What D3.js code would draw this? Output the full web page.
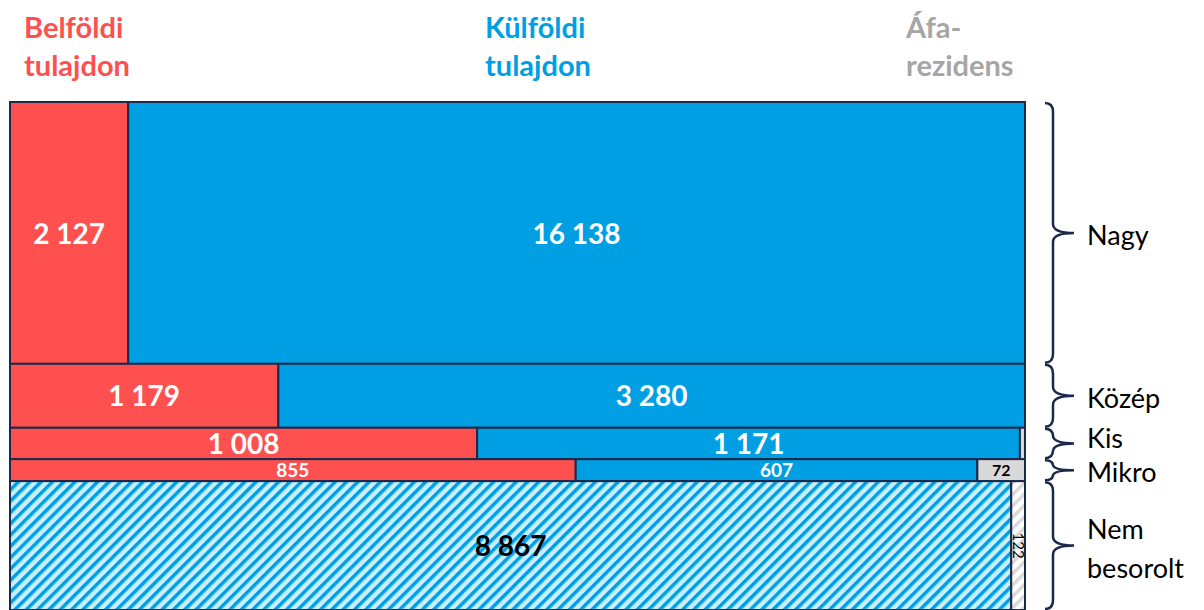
<!DOCTYPE html>
<html>
<head>
<meta charset="utf-8">
<script src="https://cdn.jsdelivr.net/npm/d3@7"></script>
<style>
  body { margin: 0; background: #fff; }
  svg { display: block; font-family: Lato, "Open Sans", sans-serif; }
</style>
</head>
<body>
<svg id="drawing_region"></svg>
<script>
// values
const categories = ['Nagy', 'Közép', 'Kis', 'Mikro', 'Nem besorolt'];
const belfoldi = [2127, 1179, 1008, 855, 0];
const kulfoldi = [16138, 3280, 1171, 607, 8867];
const afa = [0, 0, 11, 72, 122];
const groups = ['Belföldi tulajdon', 'Külföldi tulajdon', 'Áfa-rezidens'];

const W = 1204, H = 610;
const margin = {top: 102, right: 179, bottom: 0, left: 10};
const navy = '#1b2a4a';
const fills = ['#ff5050', '#009fe3', '#d9d9d9'];

const svg = d3.select('#drawing_region').attr('width', W).attr('height', H);

// hatch patterns
const defs = svg.append('defs');
function hatch(id, bg, fg) {
    const p = defs.append('pattern')
        .attr('id', id)
        .attr('patternUnits', 'userSpaceOnUse')
        .attr('width', 8).attr('height', 8)
        .attr('patternTransform', 'rotate(45)');
    p.append('rect').attr('width', 8).attr('height', 8).attr('fill', bg);
    p.append('rect').attr('x', 0).attr('width', 3.5).attr('height', 8).attr('fill', fg);
}
hatch('hatchBlue', '#c8effd', '#009fe3');
hatch('hatchGrey', '#ffffff', '#d9d9d9');

const rows = categories.map((c, i) => {
    const vals = [belfoldi[i], kulfoldi[i], afa[i]];
    return {cat: c, vals: vals, total: d3.sum(vals)};
});
const grand = d3.sum(rows, d => d.total);

const y = d3.scaleLinear()
    .domain([0, grand])
    .range([margin.top, H - margin.bottom]);

let acc = 0;
rows.forEach(r => { r.y0 = y(acc); acc += r.total; r.y1 = y(acc); });

const cells = [];
rows.forEach((r, ri) => {
    const x = d3.scaleLinear().domain([0, r.total]).range([margin.left, W - margin.right]);
    let s = 0;
    r.vals.forEach((v, gi) => {
        if (v > 0) cells.push({row: r, ri: ri, gi: gi, v: v, x0: x(s), x1: x(s + v)});
        s += v;
    });
});

const hatched = d => d.row.cat === 'Nem besorolt';

svg.append('g').selectAll('rect')
    .data(cells)
    .join('rect')
    .attr('x', d => d.x0)
    .attr('y', d => d.row.y0)
    .attr('width', d => d.x1 - d.x0)
    .attr('height', d => d.row.y1 - d.row.y0)
    .attr('fill', d => hatched(d) ? (d.gi === 2 ? 'url(#hatchGrey)' : 'url(#hatchBlue)') : fills[d.gi])
    .attr('stroke', navy)
    .attr('stroke-width', 2);

// value labels
const fmt = v => d3.format(',')(v).replace(/,/g, ' ');
const labels = svg.append('g').attr('font-weight', 'bold');
cells.forEach(d => {
    const w = d.x1 - d.x0, h = d.row.y1 - d.row.y0;
    const cx = (d.x0 + d.x1) / 2, cy = (d.row.y0 + d.row.y1) / 2;
    const dark = d.gi === 2 || hatched(d);
    if (w > 30) {
        const fs = h < 25 ? (d.gi === 2 ? 16 : 19) : 28;
        labels.append('text')
            .attr('x', cx).attr('y', cy)
            .attr('dy', '0.38em')
            .attr('text-anchor', 'middle')
            .attr('font-size', fs)
            .attr('fill', dark ? '#000' : '#fff')
            .text(fmt(d.v));
    } else if (h > 40) {
        labels.append('text')
            .attr('transform', `translate(${cx},${cy}) rotate(90)`)
            .attr('dy', '0.36em')
            .attr('text-anchor', 'middle')
            .attr('font-size', 15)
            .attr('font-weight', 'normal')
            .attr('fill', '#000')
            .text(fmt(d.v));
    }
});

// column headers
const headX = [24, 485, 906];
const headCol = ['#ff5050', '#009fe3', '#a6a6a6'];
const headLines = [['Belföldi', 'tulajdon'], ['Külföldi', 'tulajdon'], ['Áfa-', 'rezidens']];
groups.forEach((g, i) => {
    const t = svg.append('text')
        .attr('x', headX[i]).attr('y', 38)
        .attr('font-size', 29).attr('font-weight', 'bold')
        .attr('fill', headCol[i]);
    headLines[i].forEach((l, k) => t.append('tspan').attr('x', headX[i]).attr('dy', k ? 38 : 0).text(l));
});

// braces and row names
const bx = 1045, sx = 1053, tx = 1074;
function brace(y0, y1) {
    const ym = (y0 + y1) / 2;
    const r = Math.min(9, (y1 - y0) / 4);
    return `M${bx},${y0 + 1} Q${sx},${y0 + 1} ${sx},${y0 + 1 + r} L${sx},${ym - r} Q${sx},${ym} ${tx},${ym}` +
           ` Q${sx},${ym} ${sx},${ym + r} L${sx},${y1 - 1 - r} Q${sx},${y1 - 1} ${bx},${y1 - 1}`;
}
svg.append('g').selectAll('path')
    .data(rows)
    .join('path')
    .attr('d', d => brace(d.y0, d.y1))
    .attr('fill', 'none')
    .attr('stroke', navy)
    .attr('stroke-width', 2.5);

// small rows sit close together, nudge Kis up a little
const nudge = {'Kis': -7, 'Mikro': 0};
rows.forEach(r => {
    const words = r.cat === 'Nem besorolt' ? ['Nem', 'besorolt'] : [r.cat];
    const ym = (r.y0 + r.y1) / 2 + (nudge[r.cat] || 0);
    const t = svg.append('text')
        .attr('x', 1087)
        .attr('y', ym - (words.length - 1) * 19 + 12)
        .attr('font-size', 27)
        .attr('fill', '#000');
    words.forEach((w, k) => t.append('tspan').attr('x', 1087).attr('dy', k ? 39 : 0).text(w));
});
</script>
</body>
</html>
